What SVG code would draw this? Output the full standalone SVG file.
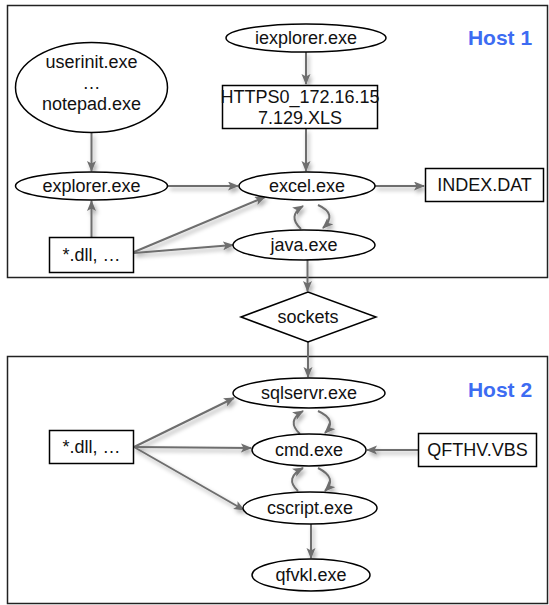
<svg xmlns="http://www.w3.org/2000/svg" width="549" height="605" viewBox="0 0 549 605">
<style>
.host{fill:#fff;stroke:#222;stroke-width:1.5}
.n{fill:#fff;stroke:#000;stroke-width:1.5}
.t{font-family:"Liberation Sans",Arial,sans-serif;font-size:18px;fill:#111;text-anchor:middle}
.h{font-family:"Liberation Sans",Arial,sans-serif;font-size:21px;font-weight:bold;fill:#3d6cf2;text-anchor:middle}
.c{fill:none;stroke:#6e6e6e;stroke-width:2;marker-end:url(#ah)}
</style>
<defs>
<marker id="ah" markerUnits="userSpaceOnUse" markerWidth="12" markerHeight="10" refX="10" refY="4.5" orient="auto">
<path d="M0,0 L11,4.5 L0,9 L2.5,4.5 z" fill="#6e6e6e"/>
</marker>
<filter id="sh" x="-20%" y="-20%" width="140%" height="140%">
<feDropShadow dx="2" dy="3" stdDeviation="2" flood-color="#000" flood-opacity="0.35"/>
</filter>
</defs>
<rect class="host" x="7.5" y="5.5" width="540" height="272"/>
<rect class="host" x="7.5" y="356.5" width="540" height="247"/>
<text class="h" x="500" y="45">Host 1</text>
<text class="h" x="500" y="397">Host 2</text>
<g id="connectors" filter="url(#sh)">
<path class="c" d="M91.5,133 L91.5,171"/>
<path class="c" d="M91.5,237 L91.5,201"/>
<path class="c" d="M306,52 L306,84"/>
<path class="c" d="M306,129 L306,171"/>
<path class="c" d="M168,186 L238,186"/>
<path class="c" d="M375,186 L424,186"/>
<path class="c" d="M134,252 L265,197"/>
<path class="c" d="M134,253 L233,245"/>
<path class="c" d="M307.5,260 L307.5,291"/>
<path class="c" d="M308,342 L308,377"/>
<path class="c" d="M134,447 L234,398"/>
<path class="c" d="M134,447 L251,448"/>
<path class="c" d="M134,447 L244,510"/>
<path class="c" d="M418,450 L367,450"/>
<path class="c" d="M311,524 L311,558"/>
<path class="c" d="M301,229 Q287,216 303,206"/>
<path class="c" d="M318,205 Q338,214 323,228"/>
<path class="c" d="M300,434 Q286,421 303,411"/>
<path class="c" d="M318,411 Q338,420 325,433"/>
<path class="c" d="M298,491 Q284,478 303,468"/>
<path class="c" d="M318,468 Q338,478 325,491"/>
</g>
<g id="userinit"><ellipse class="n" cx="91.5" cy="87.5" rx="76" ry="45"/>
<text class="t" x="91.5" y="68">userinit.exe</text><text class="t" x="91.5" y="89">…</text><text class="t" x="91.5" y="110">notepad.exe</text></g>
<g id="explorer"><ellipse class="n" cx="91.5" cy="186" rx="76" ry="14"/><text class="t" x="91.5" y="192">explorer.exe</text></g>
<g id="dll1"><rect class="n" x="49.5" y="237.5" width="84" height="35"/><text class="t" x="91.5" y="261">*.dll, …</text></g>
<g id="iexplorer"><ellipse class="n" cx="306" cy="38" rx="80" ry="14"/><text class="t" x="306" y="44">iexplorer.exe</text></g>
<g id="https"><rect class="n" x="222.5" y="85.5" width="155" height="43"/>
<text class="t" x="300" y="103">HTTPS0_172.16.15</text><text class="t" x="300" y="124">7.129.XLS</text></g>
<g id="excel"><ellipse class="n" cx="307" cy="186" rx="68" ry="14"/><text class="t" x="307" y="192">excel.exe</text></g>
<g id="indexdat"><rect class="n" x="425.5" y="168.5" width="118" height="33"/><text class="t" x="484.5" y="191">INDEX.DAT</text></g>
<g id="java"><ellipse class="n" cx="304" cy="245" rx="71" ry="15"/><text class="t" x="304" y="251">java.exe</text></g>
<g id="sockets"><polygon class="n" points="241,317 308,292 376,317 308,342"/><text class="t" x="308" y="323">sockets</text></g>
<g id="sqlservr"><ellipse class="n" cx="309" cy="393" rx="76" ry="15"/><text class="t" x="309" y="399">sqlservr.exe</text></g>
<g id="cmd"><ellipse class="n" cx="309" cy="450" rx="57" ry="16"/><text class="t" x="309" y="456">cmd.exe</text></g>
<g id="cscript"><ellipse class="n" cx="310" cy="508" rx="67" ry="16"/><text class="t" x="310" y="514">cscript.exe</text></g>
<g id="qfvkl"><ellipse class="n" cx="311" cy="575" rx="59" ry="16"/><text class="t" x="311" y="581">qfvkl.exe</text></g>
<g id="dll2"><rect class="n" x="49.5" y="430.5" width="84" height="33"/><text class="t" x="91.5" y="453">*.dll, …</text></g>
<g id="qfthv"><rect class="n" x="418.5" y="433.5" width="118" height="33"/><text class="t" x="477.5" y="456">QFTHV.VBS</text></g>
</svg>
